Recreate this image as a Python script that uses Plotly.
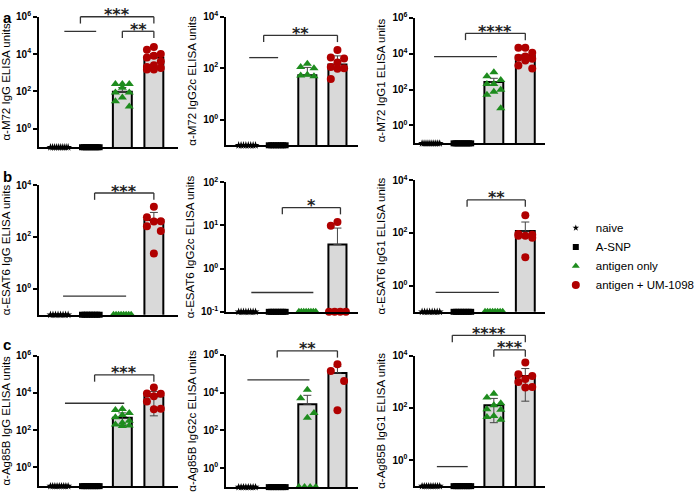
import numpy as np
import plotly.graph_objects as go

W, H = 700, 497

GROUPS = ["naive", "A-SNP", "antigen only", "antigen + UM-1098"]
SYMBOLS = ["star", "square", "triangle-up", "circle"]
COLORS = ["black", "black", "#1e8c1e", "#b00000"]
SIZES = [6, 6, 8, 8]

# ---- data (ELISA units), order: naive, A-SNP, antigen only, antigen + UM-1098
# row a: M72
M72_IGG_PTS = [
    [0.1, 0.1, 0.1, 0.1, 0.1, 0.1, 0.1, 0.1, 0.1, 0.1],
    [0.1, 0.1, 0.1, 0.1, 0.1, 0.1, 0.1, 0.1, 0.1, 0.1],
    [250, 250, 250, 155, 85, 85, 46, 29, 15.5],
    [24000, 17000, 10000, 8000, 6500, 4000, 2500, 2000, 1800, 1500, 1500],
]
M72_IGG_BAR = [None, None, 96, 6500]
M72_IGG_HI = [None, None, 160, 10500]
M72_IGG_LO = [None, None, 96, 6500]

M72_IGG2C_PTS = [
    [0.1, 0.1, 0.1, 0.1, 0.1, 0.1, 0.1, 0.1],
    [0.1, 0.1, 0.1, 0.1, 0.1, 0.1, 0.1, 0.1],
    [150, 110, 100, 55, 52, 48],
    [510, 260, 240, 165, 110, 100, 95, 38],
]
M72_IGG2C_BAR = [None, None, 53, 138]
M72_IGG2C_HI = [None, None, 107, 300]
M72_IGG2C_LO = [None, None, 53, 138]

M72_IGG1_PTS = [
    [0.1, 0.1, 0.1, 0.1, 0.1, 0.1, 0.1, 0.1, 0.1, 0.1],
    [0.1, 0.1, 0.1, 0.1, 0.1, 0.1, 0.1, 0.1, 0.1, 0.1],
    [910, 550, 340, 205, 205, 96, 76, 51, 8.9],
    [21000, 21000, 11000, 6800, 5900, 5200, 4100, 2200, 1500],
]
M72_IGG1_BAR = [None, None, 263, 7600]
M72_IGG1_HI = [None, None, 420, 9000]
M72_IGG1_LO = [None, None, 263, 7600]

# row b: ESAT6
ESAT6_IGG_PTS = [
    [0.1, 0.1, 0.1, 0.1, 0.1, 0.1, 0.1, 0.1],
    [0.1, 0.1, 0.1, 0.1, 0.1, 0.1, 0.1, 0.1],
    [0.1, 0.1, 0.1, 0.1, 0.1, 0.1, 0.1, 0.1],
    [1480, 575, 410, 400, 263, 170, 23],
]
ESAT6_IGG_BAR = [None, None, None, 450]
ESAT6_IGG_HI = [None, None, None, 890]
ESAT6_IGG_LO = [None, None, None, 450]

ESAT6_IGG2C_PTS = [
    [0.1, 0.1, 0.1, 0.1, 0.1, 0.1, 0.1, 0.1],
    [0.1, 0.1, 0.1, 0.1, 0.1, 0.1, 0.1, 0.1],
    [0.1, 0.1, 0.1, 0.1, 0.1, 0.1, 0.1, 0.1],
    [12, 9.8, 0.1, 0.1, 0.1, 0.1],
]
ESAT6_IGG2C_BAR = [None, None, None, 3.6]
ESAT6_IGG2C_HI = [None, None, None, 8.7]
ESAT6_IGG2C_LO = [None, None, None, 3.6]

ESAT6_IGG1_PTS = [
    [0.1, 0.1, 0.1, 0.1, 0.1, 0.1, 0.1, 0.1],
    [0.1, 0.1, 0.1, 0.1, 0.1, 0.1, 0.1, 0.1],
    [0.1, 0.1, 0.1, 0.1, 0.1, 0.1, 0.1, 0.1],
    [470, 91, 85, 78, 78, 65, 12],
]
ESAT6_IGG1_BAR = [None, None, None, 118]
ESAT6_IGG1_HI = [None, None, None, 260]
ESAT6_IGG1_LO = [None, None, None, 118]

# row c: Ag85B
AG85B_IGG_PTS = [
    [0.1, 0.1, 0.1, 0.1, 0.1, 0.1, 0.1, 0.1, 0.1],
    [0.1, 0.1, 0.1, 0.1, 0.1, 0.1, 0.1, 0.1, 0.1],
    [1380, 1200, 850, 660, 500, 320, 250, 200, 180, 170],
    [19500, 9300, 9000, 6600, 3500, 1400, 1350],
]
AG85B_IGG_BAR = [None, None, 460, 6600]
AG85B_IGG_HI = [None, None, 850, 12000]
AG85B_IGG_LO = [None, None, 180, 590]

AG85B_IGG2C_PTS = [
    [0.1, 0.1, 0.1, 0.1, 0.1, 0.1, 0.1, 0.1],
    [0.1, 0.1, 0.1, 0.1, 0.1, 0.1, 0.1, 0.1],
    [14000, 4900, 830, 460, 0.1, 0.1, 0.1, 0.1],
    [310000, 135000, 41000, 1170],
]
AG85B_IGG2C_BAR = [None, None, 2400, 107000]
AG85B_IGG2C_HI = [None, None, 7100, 245000]
AG85B_IGG2C_LO = [None, None, 2400, 107000]

AG85B_IGG1_PTS = [
    [0.1, 0.1, 0.1, 0.1, 0.1, 0.1, 0.1, 0.1, 0.1],
    [0.1, 0.1, 0.1, 0.1, 0.1, 0.1, 0.1, 0.1, 0.1],
    [350, 250, 150, 125, 89, 85, 49, 45, 35],
    [5500, 1950, 1660, 1260, 980, 630, 600],
]
AG85B_IGG1_BAR = [None, None, 125, 1660]
AG85B_IGG1_HI = [None, None, 230, 3200]
AG85B_IGG1_LO = [None, None, 27, 180]

TITLES = [
    "α-M72 IgG ELISA units", "α-M72 IgG2c ELISA units", "α-M72 IgG1 ELISA units",
    "α-ESAT6 IgG ELISA units", "α-ESAT6 IgG2c ELISA units", "α-ESAT6 IgG1 ELISA units",
    "α-Ag85B IgG ELISA units", "α-Ag85B IgG2c ELISA units", "α-Ag85B IgG1 ELISA units",
]
DATA = [
    (M72_IGG_PTS, M72_IGG_BAR, M72_IGG_HI, M72_IGG_LO),
    (M72_IGG2C_PTS, M72_IGG2C_BAR, M72_IGG2C_HI, M72_IGG2C_LO),
    (M72_IGG1_PTS, M72_IGG1_BAR, M72_IGG1_HI, M72_IGG1_LO),
    (ESAT6_IGG_PTS, ESAT6_IGG_BAR, ESAT6_IGG_HI, ESAT6_IGG_LO),
    (ESAT6_IGG2C_PTS, ESAT6_IGG2C_BAR, ESAT6_IGG2C_HI, ESAT6_IGG2C_LO),
    (ESAT6_IGG1_PTS, ESAT6_IGG1_BAR, ESAT6_IGG1_HI, ESAT6_IGG1_LO),
    (AG85B_IGG_PTS, AG85B_IGG_BAR, AG85B_IGG_HI, AG85B_IGG_LO),
    (AG85B_IGG2C_PTS, AG85B_IGG2C_BAR, AG85B_IGG2C_HI, AG85B_IGG2C_LO),
    (AG85B_IGG1_PTS, AG85B_IGG1_BAR, AG85B_IGG1_HI, AG85B_IGG1_LO),
]
# log10 y ranges
YRANGES = [[-1, 6], [-1, 4], [-1, 6], [-1, 4], [-1, 2], [-1, 4], [-1, 6], [-1, 6], [-1, 4]]

# pooled line (x0, x1, y) and brackets (x0, x1, y, stars), in data units
POOL_LINES = [
    (0.16, 1.17, 1.66e5), (0.07, 1.03, 257), (0.1, 2.1, 6800),
    (0.12, 2.12, 0.52), (0.14, 2.2, 0.28), (0.15, 2.16, 0.55),
    (0.18, 2.06, 2800), (0.01, 2.07, 47000), (0.19, 1.17, 0.56),
]
BRACKETS = [
    [(0.67, 3, 1e6, "***"), (2, 3, 1.66e5, "**")],
    [(0.55, 3, 1900, "**")],
    [(1.1, 3, 1.35e5, "****")],
    [(1.12, 3, 5000, "***")],
    [(1.17, 3.1, 26, "*")],
    [(1.15, 3, 1800, "**")],
    [(1.12, 3, 93000, "***")],
    [(1.0, 3, 1.6e6, "**")],
    [(0.68, 3, 60000, "****"), (2, 3, 16600, "***")],
]

# layout in pixels
COLS_PX = [(40, 183), (233, 369), (428, 562)]
XRANGES = [[-0.65, 3.75], [-0.7, 3.68], [-0.5, 3.63]]
ROWS_PX = [(10, 144), (10, 142), (11, 140),
           (183, 316), (180, 313), (178, 313),
           (358, 492), (357, 493), (358, 492)]

FONT = "Liberation Sans, Arial, sans-serif"


def spread(vals):
    vals = np.asarray(vals, float)
    xs = np.zeros(len(vals))
    low = vals <= 0.1
    n_low = int(low.sum())
    if n_low > 1:
        xs[low] = np.linspace(-0.28, 0.28, n_low)
    cyc = [0.0, -0.22, 0.22]
    for j, i in enumerate(np.where(~low)[0]):
        xs[i] = cyc[j % 3]
    return xs


def sup(p):
    return "<b>10<sup>%d</sup></b>" % p


def to_px(k, x, v):
    """data (group position, value) -> page pixels for panel k"""
    c0, c1 = COLS_PX[k % 3]
    xr0, xr1 = XRANGES[k % 3]
    top, bot = ROWS_PX[k]
    r0, r1 = YRANGES[k]
    px = c0 + (x - xr0) / (xr1 - xr0) * (c1 - c0)
    py = bot - (np.log10(v) - r0) / (r1 - r0) * (bot - top)
    return px, py


def pline(x0, y0, x1, y1):
    return dict(type="line", xref="paper", yref="paper",
                x0=x0 / W, y0=1 - y0 / H, x1=x1 / W, y1=1 - y1 / H,
                line=dict(color="#333333", width=1.3))


fig = go.Figure()
shapes = []
annotations = []

for k in range(9):
    n = "" if k == 0 else str(k + 1)
    xa, ya = "x" + n, "y" + n
    col = k % 3
    pts, bar, hi, lo = DATA[k]
    r0, r1 = YRANGES[k]
    top, bot = ROWS_PX[k]

    # bars with error bars
    bx = [i for i in range(4) if bar[i] is not None]
    by = [bar[i] for i in bx]
    fig.add_trace(go.Bar(
        x=bx, y=by, width=0.6, xaxis=xa, yaxis=ya, showlegend=False,
        marker=dict(color="#d9d9d9", line=dict(color="black", width=2)),
        error_y=dict(type="data", symmetric=False,
                     array=[hi[i] - bar[i] for i in bx],
                     arrayminus=[bar[i] - lo[i] for i in bx],
                     color="#444444", thickness=1, width=4),
        hoverinfo="skip",
    ))

    # individual animals
    for g in range(4):
        vals = pts[g]
        fig.add_trace(go.Scatter(
            x=g + spread(vals), y=vals, mode="markers", xaxis=xa, yaxis=ya,
            showlegend=False, cliponaxis=False,
            marker=dict(symbol=SYMBOLS[g], color=COLORS[g], size=SIZES[g],
                        line=dict(width=0)),
            hoverinfo="skip",
        ))

    # pooled comparison line
    x0, x1, yl = POOL_LINES[k]
    p0, py = to_px(k, x0, yl)
    p1, _ = to_px(k, x1, yl)
    shapes.append(pline(p0, py, p1, py))

    # significance brackets
    for bx0, bx1, byv, txt in BRACKETS[k]:
        q0, qy = to_px(k, bx0, byv)
        q1, _ = to_px(k, bx1, byv)
        shapes.append(pline(q0, qy + 7, q0, qy))
        shapes.append(pline(q0, qy, q1, qy))
        shapes.append(pline(q1, qy, q1, qy + 7))
        annotations.append(dict(
            text=txt, x=(q0 + q1) / 2 / W, y=1 - (qy - 2) / H,
            xref="paper", yref="paper", xanchor="center", yanchor="middle",
            showarrow=False,
            font=dict(family="DejaVu Sans", size=16, color="#222222", weight="bold"),
        ))

    tv = [p for p in range(r0, r1 + 1) if (r1 - r0 <= 3) or (p >= 0 and p % 2 == 0)]
    c0, c1 = COLS_PX[col]
    fig.layout["xaxis" + n] = dict(
        domain=[c0 / W, c1 / W], range=XRANGES[col], anchor=ya,
        showline=True, linecolor="black", linewidth=1.5, showticklabels=False,
        ticks="", showgrid=False, zeroline=False, fixedrange=True,
    )
    fig.layout["yaxis" + n] = dict(
        domain=[1 - bot / H, 1 - top / H], type="log", range=[r0, r1], anchor=xa,
        tickvals=[10.0 ** p for p in tv], ticktext=[sup(p) for p in tv],
        ticks="outside", ticklen=4, tickwidth=1.5, tickcolor="black",
        showline=True, linecolor="black", linewidth=1.5, showgrid=False,
        zeroline=False, tickfont=dict(family=FONT, size=10, color="black"),
        title=dict(text=TITLES[k], font=dict(family=FONT, size=11.5, color="black"),
                   standoff=4),
    )

# legend entries
for g in range(4):
    fig.add_trace(go.Scatter(
        x=[None], y=[None], mode="markers", name=GROUPS[g],
        marker=dict(symbol=SYMBOLS[g], color=COLORS[g], size=[5, 6, 7, 8][g]),
    ))

for lab, ypx in [("a", 0), ("b", 163), ("c", 336)]:
    annotations.append(dict(
        text="<b>%s</b>" % lab, x=1 / W, y=1 - ypx / H, xref="paper", yref="paper",
        xanchor="left", yanchor="top", showarrow=False,
        font=dict(family=FONT, size=15, color="black"),
    ))

fig.update_layout(
    width=W, height=H, margin=dict(l=0, r=0, t=0, b=0),
    paper_bgcolor="white", plot_bgcolor="white",
    font=dict(family=FONT, color="black"),
    showlegend=True,
    legend=dict(x=573 / W, y=1 - 212 / H, xanchor="left", yanchor="top",
                font=dict(family=FONT, size=11.5, color="black"),
                bgcolor="rgba(0,0,0,0)", tracegroupgap=0),
    annotations=annotations,
    shapes=shapes,
    barmode="overlay",
)

fig.write_html("out.html", config={"displayModeBar": False},
               post_script="document.body.style.margin='0px';")
